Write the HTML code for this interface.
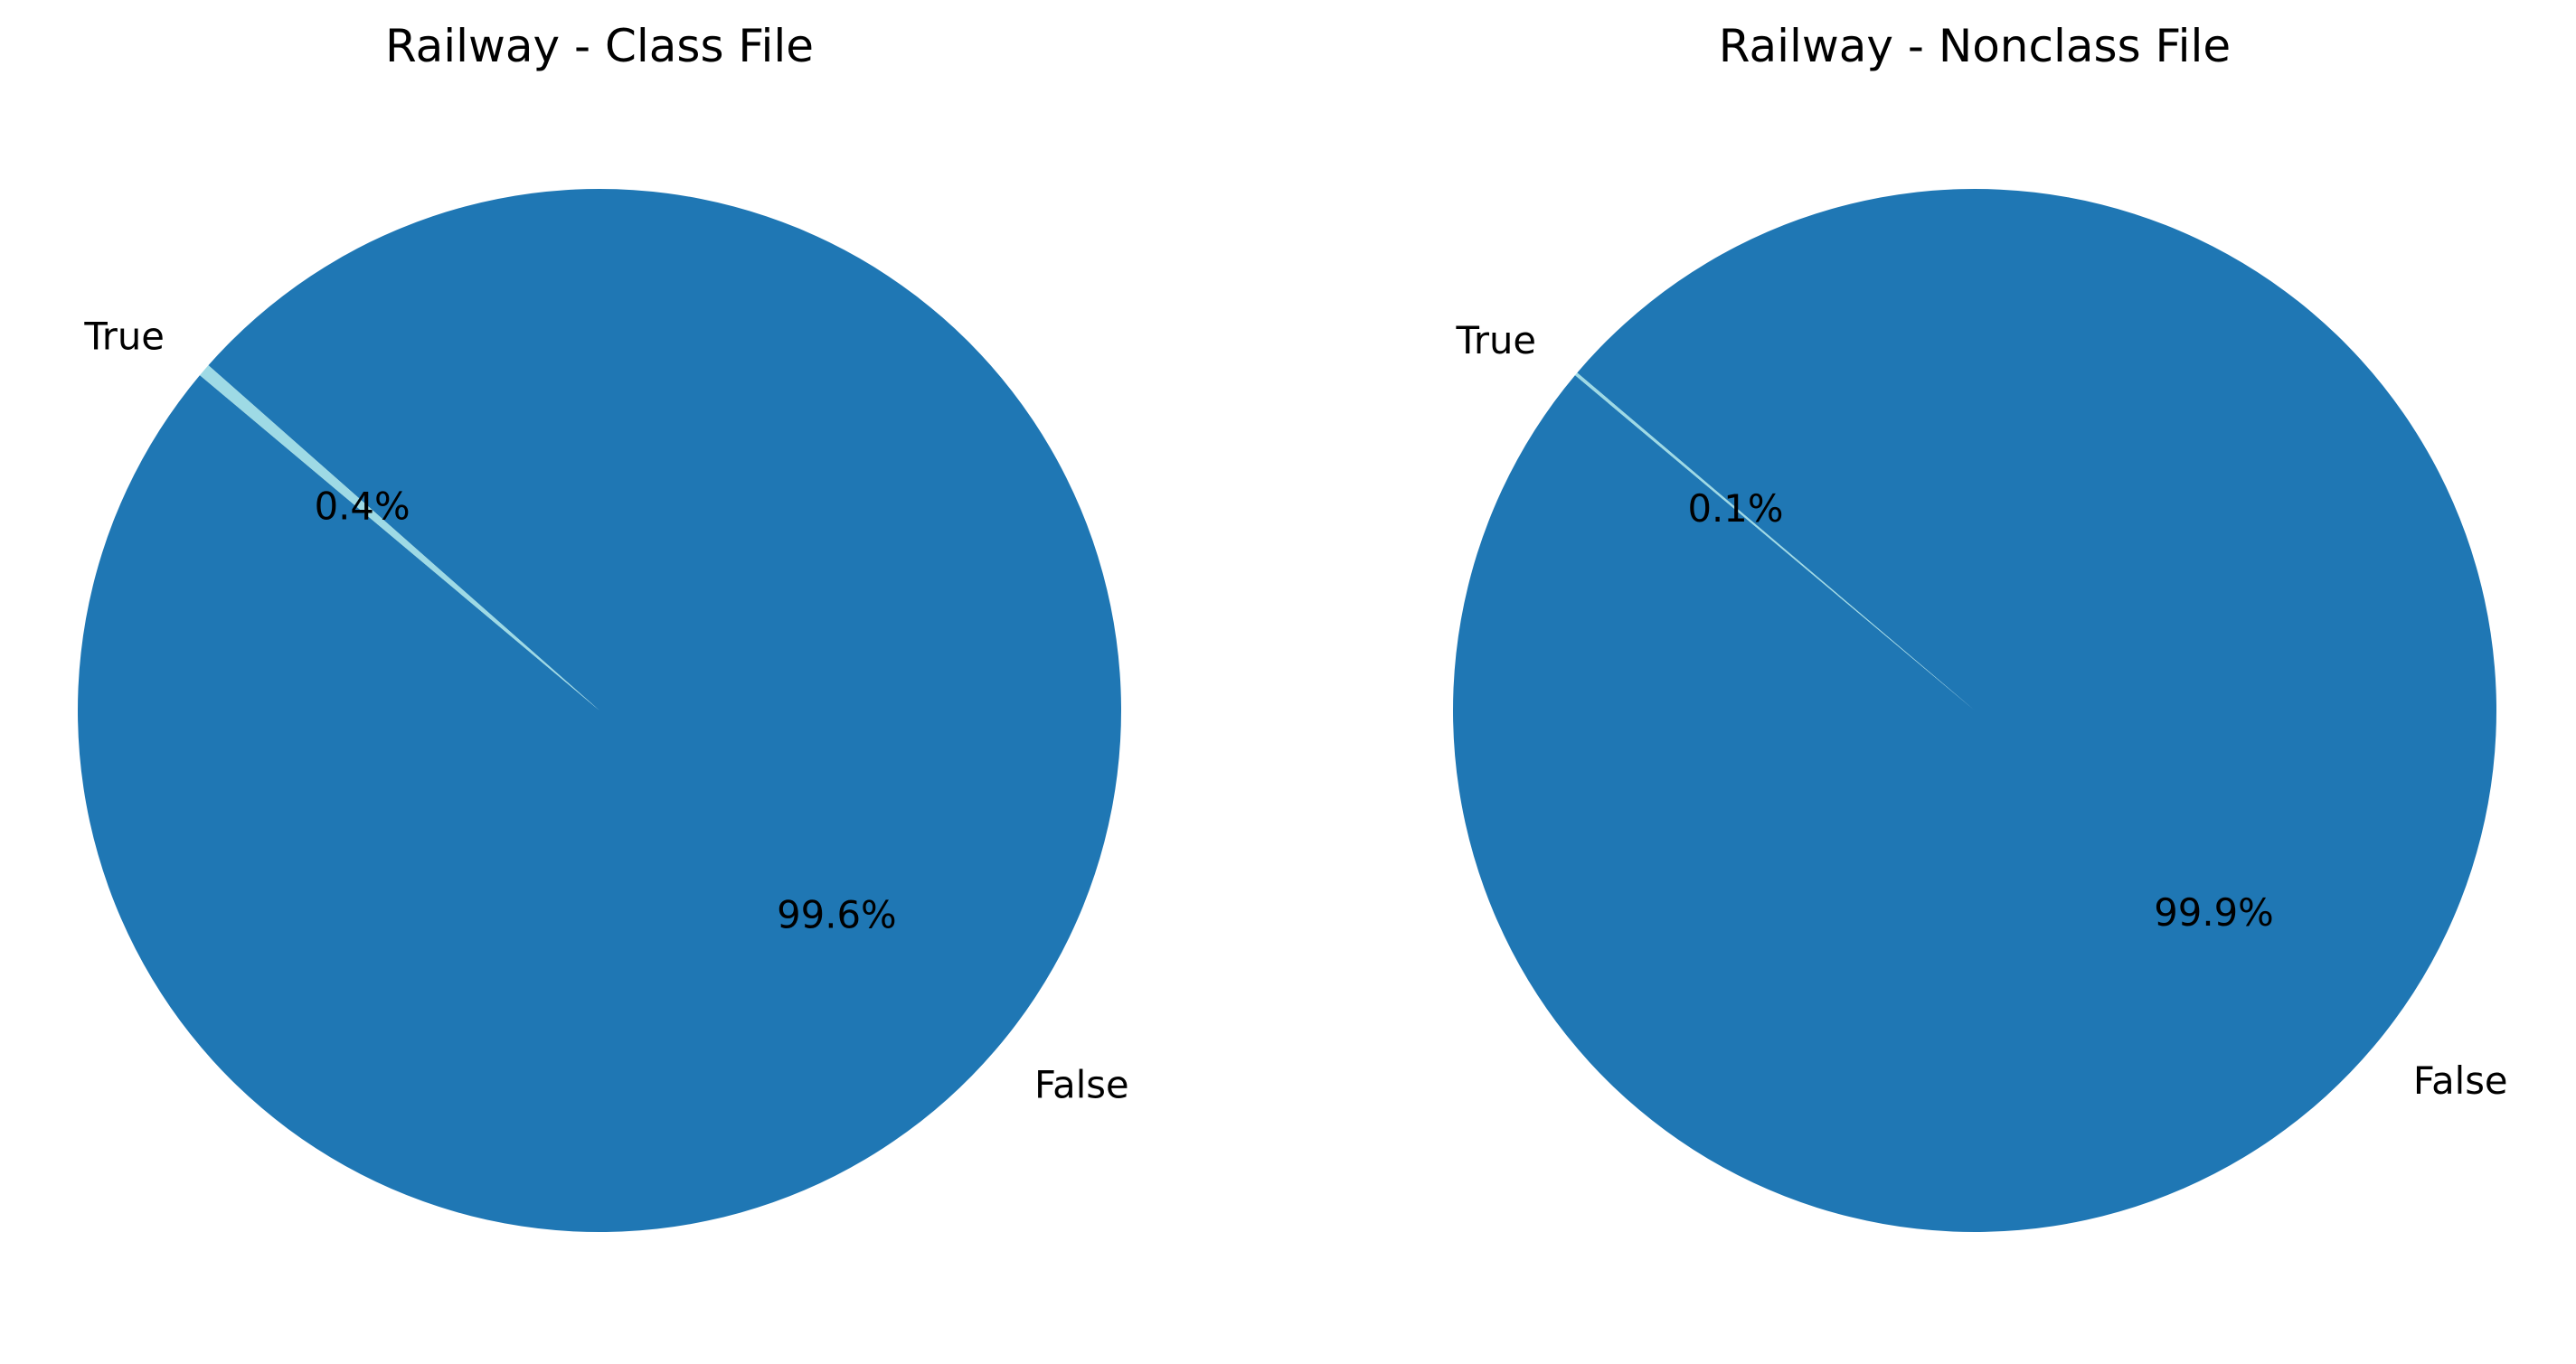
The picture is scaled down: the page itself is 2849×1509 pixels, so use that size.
<!DOCTYPE html>
<html><head><meta charset="utf-8"><style>
html,body{margin:0;padding:0;background:#fff;}
svg{display:block;font-family:"DejaVu Sans","Liberation Sans",sans-serif;}
</style></head><body>
<svg id="chart" width="2849" height="1509" viewBox="0 0 2849 1509" xmlns="http://www.w3.org/2000/svg"></svg>
<script>
const panelTitles = ["Railway - Class File", "Railway - Nonclass File"];
const sliceLabels = ["False", "True"];
const classValues = [99.6, 0.4];
const nonclassValues = [99.9, 0.1];
const pctLabels = [["99.6%", "0.4%"], ["99.9%", "0.1%"]];
const seriesList = [classValues, nonclassValues];

const NS = "http://www.w3.org/2000/svg";
const svg = document.getElementById("chart");
const colors = ["#1f77b4", "#9edae5"];
const centersX = [663, 2184];
const cy = 786, R = 577, startAngle = 140;

function mk(tag, attrs) {
  const e = document.createElementNS(NS, tag);
  for (const k in attrs) e.setAttribute(k, attrs[k]);
  return e;
}
function pt(cx, r, deg) {
  const a = deg * Math.PI / 180;
  return [cx + r * Math.cos(a), cy - r * Math.sin(a)];
}

seriesList.forEach((vals, p) => {
  const cx = centersX[p];
  const g = mk("g", {});
  
  
  svg.appendChild(g);

  const t = mk("text", {x: cx, y: 51, "font-size": 50, "text-anchor": "middle", "dominant-baseline": "central", fill: "#000"});
  
  
  t.textContent = panelTitles[p];
  g.appendChild(t);

  const total = vals.reduce((a, b) => a + b, 0);
  let ang = startAngle;
  vals.forEach((v, i) => {
    const sweep = v / total * 360;
    const a0 = ang, a1 = ang + sweep;
    const [x0, y0] = pt(cx, R, a0), [x1, y1] = pt(cx, R, a1);
    const large = sweep > 180 ? 1 : 0;
    const path = mk("path", {d: `M${cx},${cy} L${x0},${y0} A${R},${R} 0 ${large} 0 ${x1},${y1} Z`, fill: colors[i]});
    
    
    g.appendChild(path);

    const mid = (a0 + a1) / 2;
    const [lx, ly] = pt(cx, R * 1.1, mid);
    const lab = mk("text", {x: lx, y: ly, "font-size": 41.7, "text-anchor": Math.cos(mid * Math.PI / 180) < 0 ? "end" : "start", "dominant-baseline": "central", fill: "#000"});
    
    
    lab.textContent = sliceLabels[i];
    g.appendChild(lab);

    const [px, py] = pt(cx, R * 0.6, mid);
    const pc = mk("text", {x: px, y: py, "font-size": 41.7, "text-anchor": "middle", "dominant-baseline": "central", fill: "#000"});
    
    
    pc.textContent = pctLabels[p][i];
    g.appendChild(pc);
    ang = a1;
  });
});
</script>
</body></html>
